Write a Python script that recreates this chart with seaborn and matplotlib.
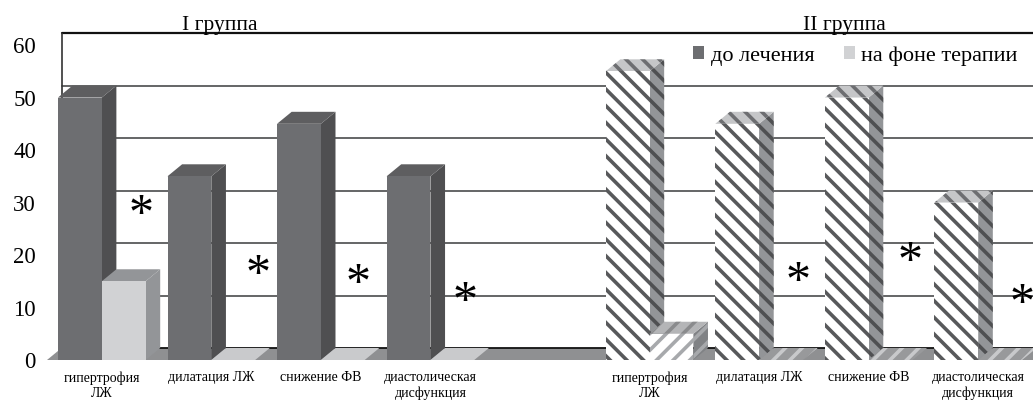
import numpy as np
import pandas as pd
import seaborn as sns
import matplotlib.pyplot as plt
from matplotlib.patches import Polygon

categories = ['гипертрофия\nЛЖ', 'дилатация ЛЖ', 'снижение ФВ', 'диастолическая\nдисфункция', '',
              'гипертрофия\nЛЖ', 'дилатация ЛЖ', 'снижение ФВ', 'диастолическая\nдисфункция']
before = [50, 35, 45, 35, None, 55, 45, 50, 30]
after = [15, 0, 0, 0, None, 5, 0, 0, 0]
series_names = ['до лечения', 'на фоне терапии']
y_ticks = [0, 10, 20, 30, 40, 50, 60]
group_titles = ['I группа', 'II группа']
star_x = [0.355, 1.425, 2.34, 3.315, 6.355, 7.38, 8.40]
star_y = [27.5, 16, 14.4, 11, 14.8, 18.5, 10.6]

sns.set_theme(style='white')
plt.rcParams['font.family'] = ['Liberation Serif', 'DejaVu Sans']
plt.rcParams['hatch.linewidth'] = 2.6

rows = []
for i in range(len(categories)):
    if before[i] is None:
        continue
    rows.append((i, series_names[0], before[i]))
    rows.append((i, series_names[1], after[i]))
df = pd.DataFrame(rows, columns=['cat', 'series', 'value'])

fig = plt.figure(figsize=(10.33, 4), dpi=100)
ax = fig.add_axes([47 / 1033, 0.1, 986 / 1033, 327 / 400])

sns.barplot(data=df, x='cat', y='value', hue='series', hue_order=series_names,
            order=list(range(len(categories))), palette=['#6d6e71', '#d1d2d4'],
            saturation=1, width=0.8, linewidth=0, ax=ax, zorder=5)

ax.set_xlim(-0.5, 8.5)
ax.set_ylim(0, 62.3)
ax.set_xlabel('')
ax.set_ylabel('')
sns.despine(ax=ax, left=True, bottom=True, top=True, right=True)

# depth of the fake 3d, in data units
dx = 14.6 / 109.55
dy = 12 / 5.25

# bars as (patch, series index), left to right so the later ones cover the earlier sides
bars = []
for k, cont in enumerate(ax.containers):
    for b in cont:
        if b.get_width() > 0:
            bars.append((b, k))
bars.sort(key=lambda t: t[0].get_x())

# back wall and floor
ax.add_patch(Polygon([(-0.5, 0), (-0.5 + dx, dy), (8.5 + dx, dy), (8.5, 0)],
                     fc='#8f9092', ec='none', zorder=1))
for t in y_ticks:
    ax.plot([-0.5 + dx, 8.5], [t + dy, t + dy], zorder=2, clip_on=False,
            color='#111111' if t in (0, 60) else '#58595b', lw=1.6 if t == 60 else 1.3)
ax.plot([-0.5 + dx, -0.5 + dx], [dy, 60 + dy], color='#333333', lw=1.2, zorder=2)

z = 5
for bar, k in bars:
    x, w, h = bar.get_x(), bar.get_width(), bar.get_height()
    second_group = x > 4
    if not second_group:
        front, side, top = ('#6d6e71', '#4f4f51', '#5e5e60') if k == 0 else ('#d1d2d4', '#939598', '#939598')
        if h == 0:
            top = '#c9cacc'
        hatch = None
        h_front = h_side = h_top = 'none'
    elif k == 0:
        hatch = '\\\\'
        front, side, top = 'white', '#939598', '#c5c6c8'
        h_front, h_side, h_top = '#58595b', '#4f5052', '#6d6e71'
    else:
        hatch = '//'
        front, side, top = 'white', '#808285', '#b4b5b7'
        h_front, h_side, h_top = '#a7a9ac', '#a7a9ac', '#8a8b8d'
        if h == 0:
            top, h_top = '#98999b', '#c8c9cb'
    bar.set_facecolor(front)
    bar.set_edgecolor(h_front)
    bar.set_hatch(hatch)
    bar.set_linewidth(0)
    bar.set_zorder(z + 1)
    ax.add_patch(Polygon([(x + w, 0), (x + w + dx, dy), (x + w + dx, h + dy), (x + w, h)],
                         fc=side, ec=h_side, hatch=hatch, lw=0, zorder=z))
    ax.add_patch(Polygon([(x, h), (x + dx, h + dy), (x + w + dx, h + dy), (x + w, h)],
                         fc=top, ec=h_top, hatch=hatch, lw=0, zorder=z))
    z += 2

ax.set_yticks(y_ticks)
ax.set_yticklabels([str(t) for t in y_ticks], fontsize=16.5, color='black')
ax.tick_params(axis='y', length=0, pad=8)
ax.set_xticks(range(len(categories)))
ax.set_xticklabels(categories, fontsize=10, color='black', linespacing=1.2)
ax.tick_params(axis='x', length=0, pad=8)

ax.text(1.08, 61.9, group_titles[0], ha='center', va='bottom', fontsize=15.5, color='black')
ax.text(6.78, 61.9, group_titles[1], ha='center', va='bottom', fontsize=15.5, color='black')

for sx, sy in zip(star_x, star_y):
    ax.text(sx, sy, '*', ha='center', va='center', fontsize=36, color='black', zorder=100)

sns.move_legend(ax, 'center', bbox_to_anchor=(0.82, 0.93), ncols=2, title=None,
                frameon=False, fontsize=16, handlelength=0.5, handleheight=0.5,
                handletextpad=0.3, columnspacing=1.3, labelcolor='black')

fig.savefig('out.png', dpi=100)
